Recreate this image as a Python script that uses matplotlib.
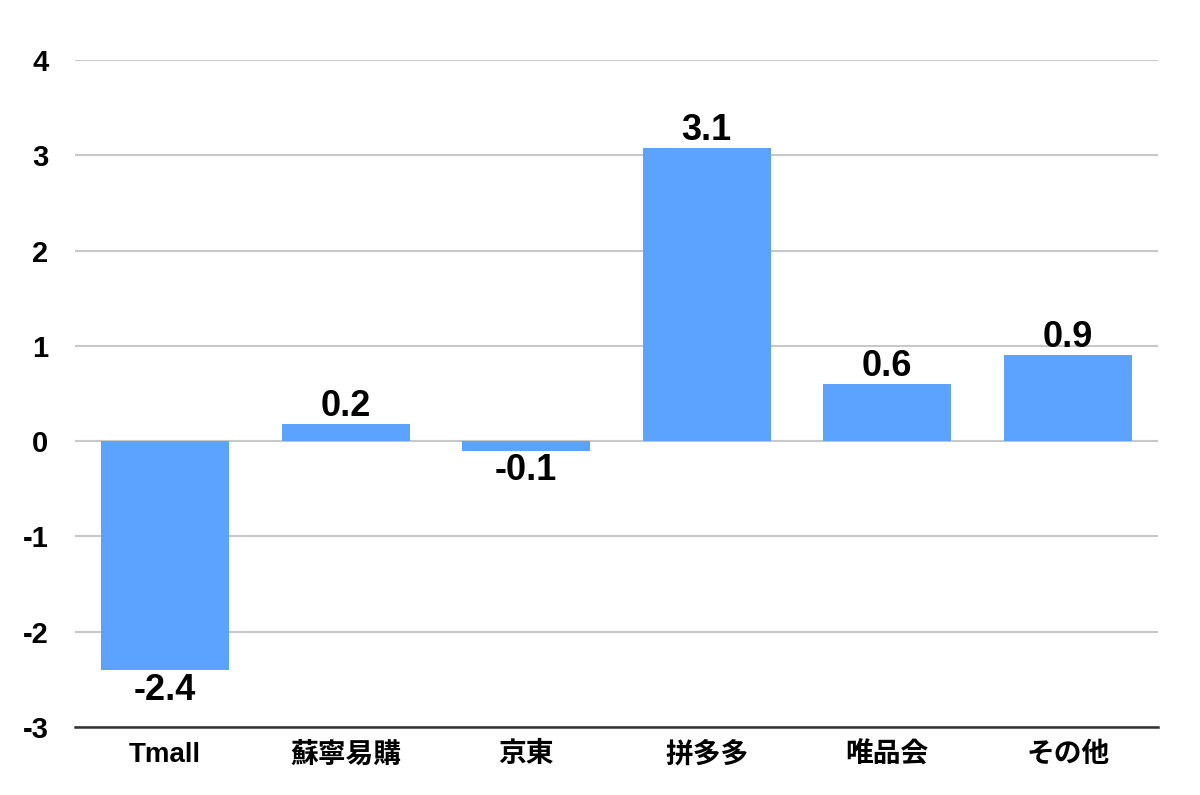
import matplotlib
matplotlib.use("Agg")
import matplotlib.pyplot as plt

plt.rcParams['font.family'] = ['Liberation Sans', 'Noto Sans CJK JP', 'DejaVu Sans']
plt.rcParams['font.weight'] = 'bold'
plt.rcParams['axes.unicode_minus'] = False

categorias = ["Tmall", "蘇寧易購", "京東", "拼多多", "唯品会", "その他"]
valores = [-2.4, 0.18, -0.1, 3.08, 0.6, 0.9]
rotulos = ["-2.4", "0.2", "-0.1", "3.1", "0.6", "0.9"]

COR = "#5ba3ff"

fig = plt.figure(figsize=(12, 7.95), dpi=100)
ax = fig.add_axes([0.0625, 0.0855, 0.9025, 0.839])

x = range(len(categorias))
barras = ax.bar(x, valores, width=0.71, color=COR, zorder=3)

for b, v, r in zip(barras, valores, rotulos):
    cx = b.get_x() + b.get_width() / 2
    if v >= 0:
        ax.annotate(r, (cx, v), xytext=(0, 0), textcoords="offset points",
                    ha="center", va="bottom", fontsize=26, fontweight="bold")
    else:
        ax.annotate(r, (cx, v), xytext=(0, -2), textcoords="offset points",
                    ha="center", va="top", fontsize=26, fontweight="bold")

ax.set_xlim(-0.5, len(categorias) - 0.5)
ax.set_ylim(-3, 4)
ax.set_yticks(range(-3, 5))
ax.set_xticks(list(x))
ax.set_xticklabels(categorias, fontsize=20, fontweight="bold")
ax.tick_params(axis="y", labelsize=21, length=0, pad=19)
ax.tick_params(axis="x", length=0, pad=11)
for t in ax.get_yticklabels():
    t.set_fontweight("bold")

ax.grid(axis="y", color="#c8c8c8", linewidth=1.5, zorder=0)
for s in ["top", "right", "left"]:
    ax.spines[s].set_visible(False)
ax.spines["bottom"].set_color("#333333")
ax.spines["bottom"].set_linewidth(1.8)
ax.spines["bottom"].set_zorder(4)

fig.savefig("out.png", dpi=100, facecolor="white")
